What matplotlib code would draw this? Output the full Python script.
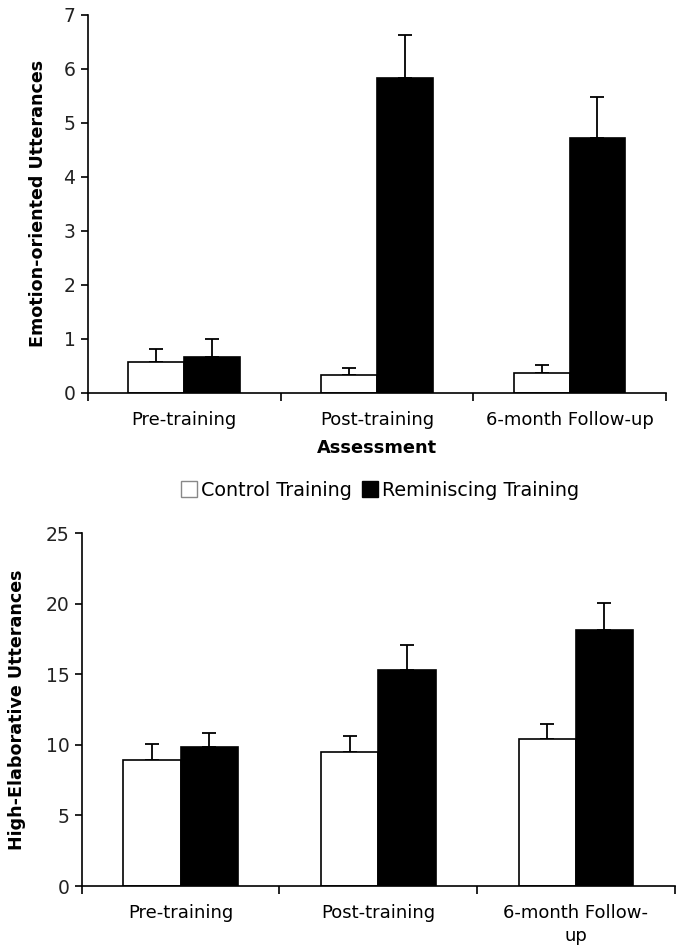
import matplotlib
matplotlib.use("Agg")
import matplotlib.pyplot as plt
from matplotlib.patches import Patch
import numpy as np

# Data
categories_top = ["Pre-training", "Post-training", "6-month Follow-up"]
categories_bottom = ["Pre-training", "Post-training", "6-month Follow-\nup"]

emotion_control = [0.58, 0.33, 0.37]
emotion_control_se = [0.24, 0.14, 0.15]
emotion_remi = [0.67, 5.82, 4.72]
emotion_remi_se = [0.33, 0.80, 0.75]

elab_control = [8.9, 9.5, 10.44]
elab_control_se = [1.18, 1.13, 1.06]
elab_remi = [9.85, 15.32, 18.14]
elab_remi_se = [0.99, 1.76, 1.94]

plt.rcParams['font.family'] = ['DejaVu Sans']

fig = plt.figure(figsize=(6.76, 9.46), dpi=100)
ax1 = fig.add_axes([0.130, 0.5846, 0.855, 0.400])
ax2 = fig.add_axes([0.121, 0.0634, 0.877, 0.373])

bw = 0.29


def draw(ax, control, control_se, remi, remi_se, labels, ymax, step, ylabel, lpad):
    x = np.arange(len(control))
    ax.bar(x - bw / 2, control, bw, color="white", edgecolor="black", linewidth=1.2, zorder=2)
    ax.bar(x + bw / 2, remi, bw, color="black", edgecolor="black", linewidth=1.2, zorder=2)
    ax.errorbar(x - bw / 2, control, yerr=[np.zeros(len(control)), control_se],
                fmt="none", ecolor="black", elinewidth=1.3, capsize=5, capthick=1.3, zorder=1)
    ax.errorbar(x + bw / 2, remi, yerr=[np.zeros(len(remi)), remi_se],
                fmt="none", ecolor="black", elinewidth=1.3, capsize=5, capthick=1.3, zorder=1)
    ax.set_xlim(-0.5, len(control) - 0.5)
    ax.set_ylim(0, ymax)
    ax.set_yticks(np.arange(0, ymax + 0.01, step))
    # category labels between tick marks
    ax.set_xticks(np.arange(-0.5, len(control), 1.0))
    ax.set_xticklabels([])
    ax.set_xticks(x, minor=True)
    ax.set_xticklabels(labels, minor=True, fontsize=13)
    ax.tick_params(axis="x", which="minor", length=0, pad=13)
    ax.tick_params(axis="x", which="major", length=6, width=1.2, direction="out")
    ax.tick_params(axis="y", length=5, width=1.2, labelsize=13.5, pad=4, labelcolor="#222222")
    ax.spines["top"].set_visible(False)
    ax.spines["right"].set_visible(False)
    ax.spines["left"].set_linewidth(1.2)
    ax.spines["bottom"].set_linewidth(1.2)
    ax.set_ylabel(ylabel, fontsize=12.6, fontweight="bold", labelpad=lpad)


draw(ax1, emotion_control, emotion_control_se, emotion_remi, emotion_remi_se,
     categories_top, 7, 1, "Emotion-oriented Utterances", 12)
ax1.set_xlabel("Assessment", fontsize=12.8, fontweight="bold", labelpad=7)

draw(ax2, elab_control, elab_control_se, elab_remi, elab_remi_se,
     categories_bottom, 25, 5, "High-Elaborative Utterances", 14)
for lab in ax2.get_xticklabels(minor=True):
    lab.set_linespacing(1.35)

handles = [Patch(facecolor="white", edgecolor="#888888", linewidth=1.0),
           Patch(facecolor="black", edgecolor="black")]
fig.legend(handles, ["Control Training", "Reminiscing Training"], loc="center",
           bbox_to_anchor=(0.562, 0.482), ncol=2, frameon=False, fontsize=13.8,
           handlelength=0.85, handleheight=0.9, handletextpad=0.2, columnspacing=0.5)

fig.savefig("out.png", dpi=100)
